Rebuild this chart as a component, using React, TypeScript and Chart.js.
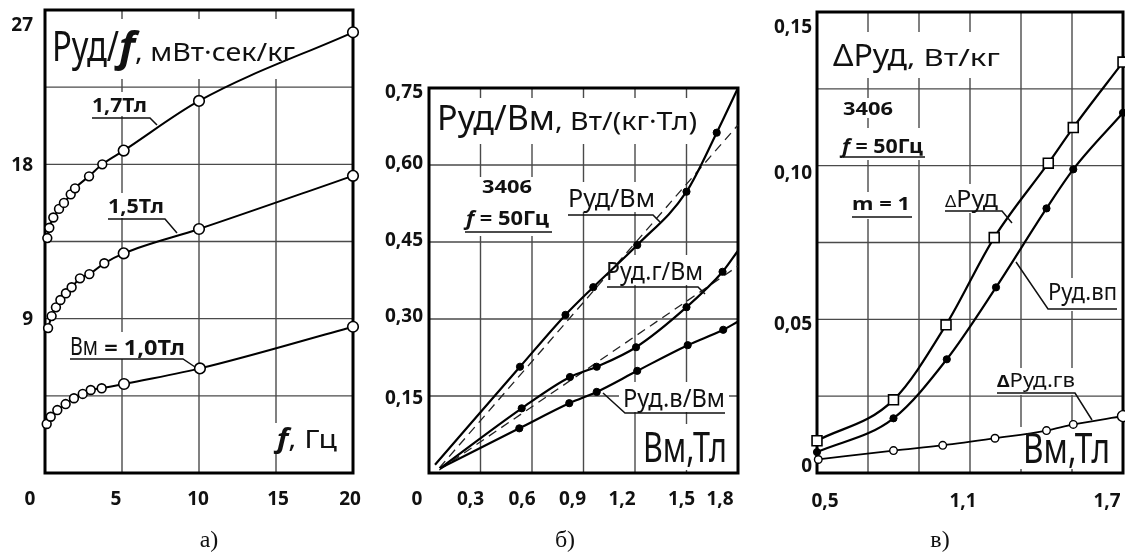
import React, { useEffect, useRef } from "react";
import { Chart, registerables } from "chart.js";

Chart.register(...registerables);

const W = 1125;
const H = 557;
const SANS = '"Noto Sans", "Open Sans", "DejaVu Sans", sans-serif';
const SERIF = '"Liberation Serif", "DejaVu Serif", serif';

// ---------- Panel а) : Руд/f vs f ----------
const A_F_17 = [0.15, 0.28, 0.54, 0.91, 1.23, 1.67, 1.95, 2.86, 3.72, 5.11, 10.0, 20.0];
const A_P_17 = [13.7, 14.3, 14.9, 15.4, 15.75, 16.25, 16.6, 17.3, 18.0, 18.8, 21.7, 25.7];
const A_F_15 = [0.2, 0.43, 0.71, 1.0, 1.36, 1.73, 2.27, 2.88, 3.85, 5.11, 10.0, 20.0];
const A_P_15 = [8.45, 9.15, 9.66, 10.09, 10.48, 10.83, 11.35, 11.6, 12.23, 12.81, 14.23, 17.33];
const A_F_10 = [0.11, 0.37, 0.8, 1.34, 1.88, 2.45, 2.97, 3.68, 5.13, 10.06, 20.0];
const A_P_10 = [2.86, 3.28, 3.67, 4.02, 4.36, 4.61, 4.84, 4.94, 5.19, 6.1, 8.53];
const A_X_TICKS = [0, 5, 10, 15, 20];
const A_X_LABELS = ["0", "5", "10", "15", "20"];
const A_Y_TICKS = [9, 18, 27];
const A_Y_LABELS = ["9", "18", "27"];

// ---------- Panel б) : Руд/Вм vs Вм ----------
const B_B_1 = [0.035, 0.53, 0.795, 0.957, 1.213, 1.5, 1.676, 1.8];
const B_P_1 = [0.016, 0.207, 0.308, 0.362, 0.444, 0.548, 0.663, 0.75];
const B_B_2 = [0.064, 0.54, 0.821, 0.977, 1.206, 1.5, 1.71, 1.8];
const B_P_2 = [0.009, 0.126, 0.187, 0.207, 0.245, 0.323, 0.392, 0.433];
const B_B_3 = [0.064, 0.526, 0.817, 0.977, 1.213, 1.507, 1.714, 1.8];
const B_P_3 = [0.009, 0.087, 0.136, 0.158, 0.199, 0.249, 0.279, 0.295];
const B_DASH_B = [0.06, 1.8];
const B_DASH_1 = [0.01, 0.678];
const B_DASH_2 = [0.006, 0.403];
const B_X_TICKS = [0, 0.3, 0.6, 0.9, 1.2, 1.5, 1.8];
const B_X_LABELS = ["0", "0,3", "0,6", "0,9", "1,2", "1,5", "1,8"];
const B_Y_TICKS = [0.15, 0.3, 0.45, 0.6, 0.75];
const B_Y_LABELS = ["0,15", "0,30", "0,45", "0,60", "0,75"];

// ---------- Panel в) : ΔРуд vs Вм ----------
const C_B_DP = [0.5, 0.8, 1.006, 1.195, 1.407, 1.505, 1.7];
const C_DP = [0.0105, 0.0238, 0.0482, 0.0766, 0.1008, 0.1124, 0.1337];
const C_B_VP = [0.5, 0.8, 1.009, 1.202, 1.4, 1.505, 1.7];
const C_VP = [0.0068, 0.0178, 0.037, 0.0604, 0.0861, 0.0988, 0.1172];
const C_B_GV = [0.505, 0.8, 0.993, 1.198, 1.4, 1.505, 1.7];
const C_GV = [0.0044, 0.0073, 0.009, 0.0113, 0.0138, 0.0158, 0.0185];
const C_X_TICKS = [0.5, 1.1, 1.7];
const C_X_LABELS = ["0,5", "1,1", "1,7"];
const C_Y_TICKS = [0, 0.05, 0.1, 0.15];
const C_Y_LABELS = ["0", "0,05", "0,10", "0,15"];

type Run = { t: string; s: number; w?: number; i?: boolean; fw?: number };
type Note = { x: number; y: number; runs: Run[]; fit?: number; box?: number[]; line?: number[] };
type Panel = {
  area: { l: number; t: number; r: number; b: number };
  x: { min: number; max: number; step: number };
  y: { min: number; max: number; step: number };
  xTicks: number[]; xLabels: string[]; xDx: number[]; xLabelY: number;
  yTicks: number[]; yLabels: string[]; yDy: number[]; yLabelRight: number;
  datasets: any[];
  notes: Note[];
  caption: { t: string; x: number; y: number };
};

const pts = (xs: number[], ys: number[]) => xs.map((x, i) => ({ x, y: ys[i] }));

const openCurve = (xs: number[], ys: number[]) => ({
  data: pts(xs, ys),
  borderColor: "#000",
  borderWidth: 2,
  pointStyle: "circle",
  pointBackgroundColor: "#fff",
  pointBorderColor: "#000",
  pointBorderWidth: 1.6,
  pointRadius: (c: any) => (c.raw && c.raw.x >= 5 ? 5.3 : 4.4),
  cubicInterpolationMode: "monotone",
  clip: false,
  fill: false,
});

const dotCurve = (xs: number[], ys: number[]) => ({
  data: pts(xs, ys),
  borderColor: "#000",
  borderWidth: 2.2,
  pointStyle: "circle",
  pointBackgroundColor: "#000",
  pointBorderColor: "#000",
  pointBorderWidth: 1,
  pointRadius: (c: any) => (c.dataIndex === 0 || c.dataIndex === xs.length - 1 ? 0 : 3.6),
  cubicInterpolationMode: "monotone",
  clip: false,
  fill: false,
});

const dashLine = (xs: number[], ys: number[]) => ({
  data: pts(xs, ys),
  borderColor: "#222",
  borderWidth: 1.3,
  borderDash: [9, 6],
  pointRadius: 0,
  clip: false,
  fill: false,
});

const squareCurve = (xs: number[], ys: number[]) => ({
  data: pts(xs, ys),
  borderColor: "#000",
  borderWidth: 2.2,
  pointStyle: "rect",
  pointBackgroundColor: "#fff",
  pointBorderColor: "#000",
  pointBorderWidth: 1.6,
  pointRadius: 7,
  cubicInterpolationMode: "monotone",
  clip: false,
  fill: false,
});

const filledCurve = (xs: number[], ys: number[]) => ({
  data: pts(xs, ys),
  borderColor: "#000",
  borderWidth: 2.2,
  pointStyle: "circle",
  pointBackgroundColor: "#000",
  pointBorderColor: "#000",
  pointBorderWidth: 1,
  pointRadius: 3.6,
  cubicInterpolationMode: "monotone",
  clip: false,
  fill: false,
});

const smallOpenCurve = (xs: number[], ys: number[]) => ({
  data: pts(xs, ys),
  borderColor: "#000",
  borderWidth: 1.8,
  pointStyle: "circle",
  pointBackgroundColor: "#fff",
  pointBorderColor: "#000",
  pointBorderWidth: 1.4,
  pointRadius: (c: any) => (c.dataIndex === xs.length - 1 ? 5.5 : 3.8),
  cubicInterpolationMode: "monotone",
  clip: false,
  fill: false,
});

const PANEL_A: Panel = {
  area: { l: 45, t: 10, r: 353, b: 473 },
  x: { min: 0, max: 20, step: 5 },
  y: { min: 0, max: 27, step: 4.5 },
  xTicks: A_X_TICKS, xLabels: A_X_LABELS, xDx: [-15, -6, -1, 2, -3], xLabelY: 500,
  yTicks: A_Y_TICKS, yLabels: A_Y_LABELS, yDy: [1, 1, 16], yLabelRight: 33,
  datasets: [openCurve(A_F_17, A_P_17), openCurve(A_F_15, A_P_15), openCurve(A_F_10, A_P_10)],
  notes: [
    {
      x: 52, y: 61,
      runs: [
        { t: "Руд/", s: 41, fw: 67 },
        { t: "f", s: 41, w: 700, i: true, fw: 16 },
        { t: ", мВт·сек/кг", s: 26, fw: 160 },
      ],
      box: [48, 19, 252, 60],
    },
    { x: 92, y: 112, runs: [{ t: "1,7Тл", s: 20, w: 700 }], fit: 55, box: [88, 92, 66, 24], line: [92, 118, 150, 118, 157, 125] },
    { x: 108, y: 213, runs: [{ t: "1,5Тл", s: 20, w: 700 }], fit: 56, box: [104, 193, 66, 25], line: [108, 219, 165, 219, 177, 233] },
    {
      x: 70, y: 355,
      runs: [{ t: "Вм", s: 26, fw: 28 }, { t: " = 1,0Тл", s: 21, w: 700, fw: 87 }],
      box: [66, 332, 122, 27], line: [70, 359, 183, 359, 195, 367],
    },
    {
      x: 277, y: 448,
      runs: [{ t: "f", s: 26, w: 700, i: true }, { t: ", Гц", s: 26 }],
      fit: 60, box: [273, 423, 68, 30],
    },
  ],
  caption: { t: "а)", x: 209, y: 541 },
};

const PANEL_B: Panel = {
  area: { l: 429, t: 88, r: 738, b: 473 },
  x: { min: 0, max: 1.8, step: 0.3 },
  y: { min: 0, max: 0.75, step: 0.15 },
  xTicks: B_X_TICKS, xLabels: B_X_LABELS, xDx: [-12, -10, -10, -11, -13, -5, -18], xLabelY: 500,
  yTicks: B_Y_TICKS, yLabels: B_Y_LABELS, yDy: [3, -2, -1, -1, 5], yLabelRight: 423,
  datasets: [
    dotCurve(B_B_1, B_P_1),
    dotCurve(B_B_2, B_P_2),
    dotCurve(B_B_3, B_P_3),
    dashLine(B_DASH_B, B_DASH_1),
    dashLine(B_DASH_B, B_DASH_2),
  ],
  notes: [
    {
      x: 437, y: 130,
      runs: [{ t: "Руд/Вм", s: 35, fw: 118 }, { t: ", Вт/(кг·Тл)", s: 26, fw: 142 }],
      box: [433, 98, 270, 46],
    },
    { x: 482, y: 193, runs: [{ t: "3406", s: 18, w: 700 }], fit: 50, box: [478, 177, 58, 19] },
    {
      x: 466, y: 225,
      runs: [{ t: "f", s: 19, w: 700, i: true }, { t: " = 50Гц", s: 19, w: 700 }],
      fit: 83, box: [462, 196, 92, 40], line: [465, 232, 552, 232],
    },
    { x: 568, y: 207, runs: [{ t: "Руд/Вм", s: 26 }], fit: 87, box: [565, 182, 92, 30], line: [568, 215, 653, 215, 660, 222] },
    { x: 606, y: 280, runs: [{ t: "Руд.г/Вм", s: 26 }], fit: 97, box: [602, 255, 102, 30], line: [607, 287, 698, 287, 705, 294] },
    { x: 623, y: 407, runs: [{ t: "Руд.в/Вм", s: 26 }], fit: 102, box: [619, 382, 110, 30], line: [603, 393, 625, 413, 725, 413] },
    { x: 643, y: 462, runs: [{ t: "Вм,Тл", s: 41 }], fit: 84, box: [639, 424, 95, 46] },
  ],
  caption: { t: "б)", x: 565, y: 541 },
};

const PANEL_C: Panel = {
  area: { l: 817, t: 12, r: 1123, b: 473 },
  x: { min: 0.5, max: 1.7, step: 0.2 },
  y: { min: 0, max: 0.15, step: 0.025 },
  xTicks: C_X_TICKS, xLabels: C_X_LABELS, xDx: [8, -7, -16], xLabelY: 502,
  yTicks: C_Y_TICKS, yLabels: C_Y_LABELS, yDy: [-6, 5, 8, 16], yLabelRight: 812,
  datasets: [squareCurve(C_B_DP, C_DP), filledCurve(C_B_VP, C_VP), smallOpenCurve(C_B_GV, C_GV)],
  notes: [
    {
      x: 833, y: 66,
      runs: [{ t: "ΔРуд", s: 31, fw: 74 }, { t: ", Вт/кг", s: 24, fw: 93 }],
      box: [829, 32, 176, 46],
    },
    { x: 843, y: 115, runs: [{ t: "3406", s: 18, w: 700 }], fit: 50, box: [839, 98, 58, 20] },
    {
      x: 842, y: 153,
      runs: [{ t: "f", s: 19, w: 700, i: true }, { t: " = 50Гц", s: 19, w: 700 }],
      fit: 81, box: [838, 128, 90, 32], line: [843, 157, 925, 157],
    },
    { x: 852, y: 210, runs: [{ t: "m = 1", s: 18, w: 700 }], fit: 58, box: [848, 192, 68, 27], line: [852, 217, 912, 217] },
    {
      x: 945, y: 207,
      runs: [{ t: "Δ", s: 17 }, { t: "Руд", s: 24 }],
      fit: 53, box: [941, 184, 64, 29], line: [945, 211, 1002, 211, 1012, 223],
    },
    { x: 1048, y: 300, runs: [{ t: "Руд.вп", s: 24 }], fit: 69, box: [1044, 278, 76, 33], line: [1016, 262, 1048, 309, 1117, 309] },
    {
      x: 997, y: 387,
      runs: [{ t: "Δ", s: 16, w: 700 }, { t: "Руд.гв", s: 19 }],
      fit: 78, box: [993, 368, 86, 27], line: [997, 393, 1075, 393, 1092, 420],
    },
    { x: 1023, y: 463, runs: [{ t: "Вм,Тл", s: 41 }], fit: 87, box: [1019, 427, 100, 42] },
  ],
  caption: { t: "в)", x: 940, y: 541 },
};

const fontOf = (r: Run) => `${r.i ? "italic" : "normal"} ${r.w || 400} ${r.s}px ${SANS}`;

function drawNote(ctx: CanvasRenderingContext2D, n: Note) {
  let w = 0;
  for (const r of n.runs) {
    ctx.font = fontOf(r);
    w += ctx.measureText(r.t).width;
  }
  let gs = n.fit ? n.fit / w : 1;
  gs = Math.max(0.7, Math.min(1.35, gs));
  ctx.save();
  ctx.fillStyle = "#111";
  ctx.textAlign = "left";
  ctx.textBaseline = "alphabetic";
  let cx = n.x;
  for (const r of n.runs) {
    ctx.font = fontOf(r);
    const rw = ctx.measureText(r.t).width;
    let sx = r.fw ? r.fw / rw : gs;
    sx = Math.max(0.6, Math.min(1.5, sx));
    ctx.save();
    ctx.translate(cx, n.y);
    ctx.scale(sx, 1);
    ctx.fillText(r.t, 0, 0);
    ctx.restore();
    cx += rw * sx;
  }
  ctx.restore();
  if (n.line) {
    ctx.save();
    ctx.strokeStyle = "#111";
    ctx.lineWidth = 1.5;
    ctx.beginPath();
    ctx.moveTo(n.line[0], n.line[1]);
    for (let i = 2; i < n.line.length; i += 2) ctx.lineTo(n.line[i], n.line[i + 1]);
    ctx.stroke();
    ctx.restore();
  }
}

function panelPlugin(p: Panel) {
  return {
    id: "panelDecor",
    beforeDatasetsDraw(chart: any) {
      const ctx: CanvasRenderingContext2D = chart.ctx;
      const { left, top, right, bottom } = chart.chartArea;
      const xs = chart.scales.x;
      const ys = chart.scales.y;
      ctx.save();
      // grid lines at the scales' own tick values
      ctx.strokeStyle = "#4a4a4a";
      ctx.lineWidth = 1.4;
      ctx.setLineDash([]);
      const xv: number[] = [];
      for (let v = p.x.min + p.x.step; v < p.x.max - p.x.step / 2; v += p.x.step) xv.push(v);
      const yv: number[] = [];
      for (let v = p.y.min + p.y.step; v < p.y.max - p.y.step / 2; v += p.y.step) yv.push(v);
      for (const v of xv) {
        const px = xs.getPixelForValue(v);
        ctx.beginPath();
        ctx.moveTo(px, top);
        ctx.lineTo(px, bottom);
        ctx.stroke();
      }
      for (const v of yv) {
        const py = ys.getPixelForValue(v);
        ctx.beginPath();
        ctx.moveTo(left, py);
        ctx.lineTo(right, py);
        ctx.stroke();
      }
      // white label backgrounds
      ctx.fillStyle = "#fff";
      for (const n of p.notes) if (n.box) ctx.fillRect(n.box[0], n.box[1], n.box[2], n.box[3]);
      // frame
      ctx.strokeStyle = "#000";
      ctx.lineWidth = 3;
      ctx.strokeRect(left, top, right - left, bottom - top);
      ctx.restore();
    },
    afterDraw(chart: any) {
      const ctx: CanvasRenderingContext2D = chart.ctx;
      const xs = chart.scales.x;
      const ys = chart.scales.y;
      ctx.save();
      ctx.fillStyle = "#111";
      ctx.font = `700 19px ${SANS}`;
      ctx.textBaseline = "middle";
      ctx.textAlign = "center";
      p.xTicks.forEach((v, i) => ctx.fillText(p.xLabels[i], xs.getPixelForValue(v) + p.xDx[i], p.xLabelY));
      ctx.textAlign = "right";
      p.yTicks.forEach((v, i) => ctx.fillText(p.yLabels[i], p.yLabelRight, ys.getPixelForValue(v) + p.yDy[i]));
      ctx.restore();
      for (const n of p.notes) drawNote(ctx, n);
      ctx.save();
      ctx.fillStyle = "#111";
      ctx.font = `400 24px ${SERIF}`;
      ctx.textAlign = "center";
      ctx.textBaseline = "middle";
      ctx.fillText(p.caption.t, p.caption.x, p.caption.y);
      ctx.restore();
    },
  };
}

function makeChart(canvas: HTMLCanvasElement, p: Panel) {
  return new Chart(canvas, {
    type: "line",
    data: { datasets: p.datasets as any },
    options: {
      responsive: false,
      animation: false,
      events: [],
      layout: {
        autoPadding: false,
        padding: { left: p.area.l, top: p.area.t, right: W - p.area.r, bottom: H - p.area.b },
      },
      plugins: { legend: { display: false }, tooltip: { enabled: false }, title: { display: false } },
      scales: {
        x: {
          type: "linear",
          min: p.x.min,
          max: p.x.max,
          ticks: { display: false, stepSize: p.x.step },
          grid: { display: false },
          border: { display: false },
          afterFit: (s: any) => {
            s.height = 0;
          },
        },
        y: {
          type: "linear",
          min: p.y.min,
          max: p.y.max,
          ticks: { display: false, stepSize: p.y.step },
          grid: { display: false },
          border: { display: false },
          afterFit: (s: any) => {
            s.width = 0;
          },
        },
      },
    } as any,
    plugins: [panelPlugin(p)],
  });
}

export default function App() {
  const refA = useRef<HTMLCanvasElement>(null);
  const refB = useRef<HTMLCanvasElement>(null);
  const refC = useRef<HTMLCanvasElement>(null);

  useEffect(() => {
    const charts = [
      makeChart(refA.current!, PANEL_A),
      makeChart(refB.current!, PANEL_B),
      makeChart(refC.current!, PANEL_C),
    ];
    return () => charts.forEach((c) => c.destroy());
  }, []);

  const cs: React.CSSProperties = { position: "absolute", left: 0, top: 0, width: W, height: H };
  return (
    <div style={{ position: "absolute", left: 0, top: 0, width: W, height: H, background: "#fff", overflow: "hidden" }}>
      <canvas ref={refA} width={W} height={H} style={cs} />
      <canvas ref={refB} width={W} height={H} style={cs} />
      <canvas ref={refC} width={W} height={H} style={cs} />
    </div>
  );
}
